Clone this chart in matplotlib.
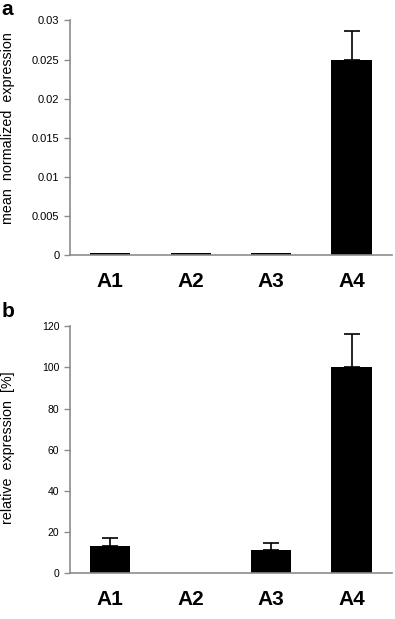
import numpy as np
import matplotlib
matplotlib.use('Agg')
import matplotlib.pyplot as plt

plt.rcParams['font.family'] = ['Liberation Sans', 'DejaVu Sans']

# data
categories = ['A1', 'A2', 'A3', 'A4']
norm_expr = [0.0002, 0.0002, 0.0002, 0.025]
norm_err = [0, 0, 0, 0.0037]
rel_expr = [13.3, 0, 11.5, 100]
rel_err = [4.0, 0, 3.4, 16.4]

fig = plt.figure(figsize=(3.95, 6.19), dpi=100)
ax1 = fig.add_axes([0.177, 0.588, 0.815, 0.379])
ax2 = fig.add_axes([0.177, 0.074, 0.815, 0.399])

x = np.arange(len(categories))


def style(ax, ylabel, tsize, ly):
    ax.set_xlim(-0.5, len(categories) - 0.5)
    for s in ['top', 'right']:
        ax.spines[s].set_visible(False)
    for s in ['left', 'bottom']:
        ax.spines[s].set_color('#8c8c8c')
        ax.spines[s].set_linewidth(1.2)
    ax.tick_params(axis='y', colors='#8c8c8c', labelcolor='black', labelsize=tsize,
                   length=4, width=1, direction='out')
    ax.tick_params(axis='x', length=0, labelsize=15, pad=12)
    ax.set_xticks(x)
    ax.set_xticklabels(categories, fontweight='bold')
    ax.set_ylabel(ylabel, fontsize=10.3, va='center')
    ax.yaxis.set_label_coords(-0.193, ly)


ax1.bar(x, norm_expr, width=0.5, color='black')
ax1.errorbar(x[3:], norm_expr[3:], yerr=[[0], norm_err[3:]], fmt='none',
             ecolor='black', elinewidth=1.2, capsize=6, capthick=1.2)
ax1.set_ylim(0, 0.03)
ax1.set_yticks([0, 0.005, 0.01, 0.015, 0.02, 0.025, 0.03])
ax1.set_yticklabels(['0', '0.005', '0.01', '0.015', '0.02', '0.025', '0.03'])
style(ax1, 'mean  normalized  expression', 8, 0.54)

ax2.bar(x, rel_expr, width=0.5, color='black')
idx = [0, 2, 3]
ax2.errorbar(x[idx], np.array(rel_expr)[idx],
             yerr=[np.zeros(3), np.array(rel_err)[idx]], fmt='none',
             ecolor='black', elinewidth=1.2, capsize=6, capthick=1.2)
ax2.set_ylim(0, 120)
ax2.set_yticks(range(0, 121, 20))
style(ax2, 'relative  expression  [%]', 7.5, 0.51)

fig.text(0.003, 0.985, 'a', fontsize=15, fontweight='bold', va='center')
fig.text(0.003, 0.497, 'b', fontsize=15, fontweight='bold', va='center')

plt.savefig('out.png', dpi=100)
